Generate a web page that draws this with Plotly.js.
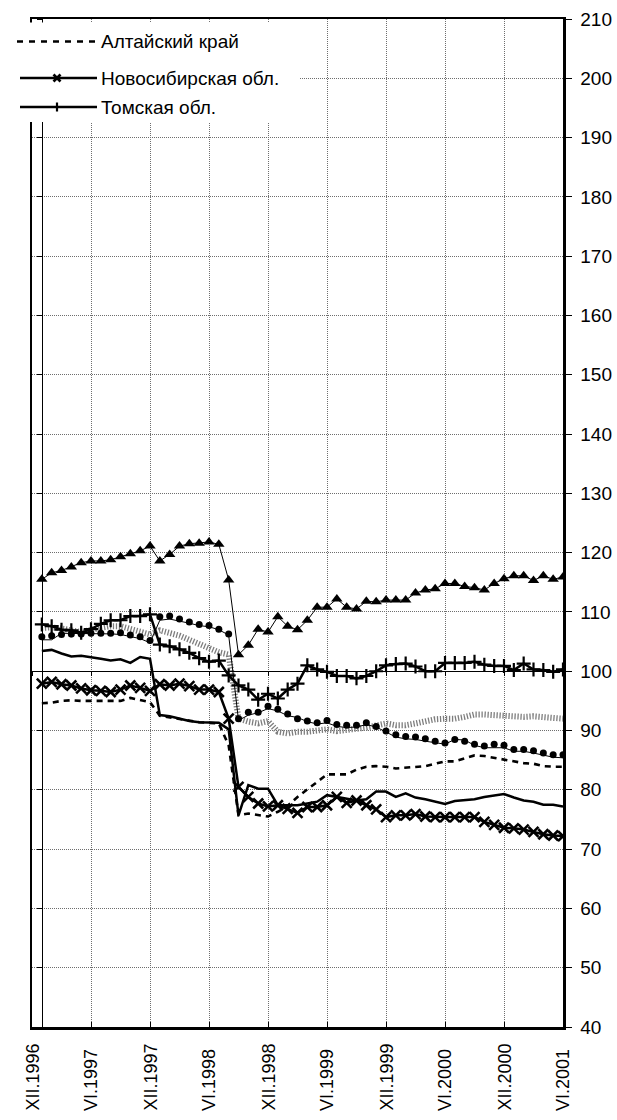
<!DOCTYPE html>
<html>
<head>
<meta charset="utf-8">
<script src="https://cdn.plot.ly/plotly-3.0.1.min.js"></script>
<style>html,body{margin:0;padding:0;background:#fff;}#chart{width:617px;height:1120px;}</style>
</head>
<body>
<div id="chart"></div>
<script>
// ---- categories (months) ----
const ROMAN = ['I','II','III','IV','V','VI','VII','VIII','IX','X','XI','XII'];
const months = ['XII.1996'];
for (let yr = 1997; yr <= 2001; yr++) {
  for (let m = 0; m < 12; m++) {
    if (yr === 2001 && m > 5) break;
    months.push(ROMAN[m] + '.' + yr);
  }
}
const dataMonths = months.slice(1); // I.1997 .. VI.2001
const xTicks = ['XII.1996','VI.1997','XII.1997','VI.1998','XII.1998','VI.1999','XII.1999','VI.2000','XII.2000','VI.2001'];

// ---- series values ----
const altai = [94.6,94.7,95.0,95.1,95.0,95.0,95.0,95.0,95.0,95.5,95.2,94.8,
  92.5,92.2,92.0,91.6,91.4,91.3,91.2,87.5,75.7,76.0,75.7,75.5,
  76.3,77.3,78.8,80.1,81.4,82.6,82.6,82.6,83.4,83.9,84.0,83.9,
  83.6,83.7,83.8,84.0,84.4,84.8,84.8,85.3,85.8,85.7,85.4,85.0,
  84.8,84.5,84.4,84.0,83.9,83.9];
const novosib = [97.9,98.2,97.8,97.6,97.1,96.8,96.7,96.5,96.9,97.6,97.2,96.7,
  97.8,97.6,97.9,97.5,96.9,96.9,96.5,92.0,80.5,78.8,77.7,77.2,
  77.4,76.8,76.1,77.1,77.1,77.4,78.8,77.8,78.2,77.4,76.7,75.4,
  75.7,75.7,75.9,75.5,75.4,75.4,75.4,75.4,75.4,74.6,74.1,73.6,
  73.5,73.3,72.9,72.5,72.3,72.2];
const tomsk = [107.9,107.6,107.0,106.9,106.5,107.1,108.0,108.6,108.6,109.3,109.3,109.6,
  104.5,104.2,103.7,103.1,102.2,101.6,101.8,99.3,97.6,96.9,95.2,96.2,
  95.4,96.9,97.9,101.0,100.3,99.9,99.2,99.2,98.8,99.2,100.0,101.0,
  101.2,101.3,100.8,100.0,100.0,101.4,101.4,101.4,101.6,101.1,100.9,100.9,
  100.2,101.3,100.3,100.2,99.9,100.3];
const triangles = [115.5,116.6,117.0,117.6,118.3,118.6,118.6,118.8,119.3,119.8,120.3,121.1,
  118.6,119.7,121.1,121.5,121.6,121.8,121.4,115.4,102.8,104.4,107.1,106.6,
  109.2,107.6,107.0,108.6,110.8,110.8,112.2,110.8,110.5,111.8,111.7,112.0,
  112.0,112.0,113.2,113.7,113.9,114.8,114.8,114.3,114.1,113.7,114.8,115.6,
  116.1,116.1,115.3,116.1,115.5,115.9];
const circles = [105.8,106.0,106.2,106.3,106.3,106.4,106.4,106.4,106.5,106.1,105.8,105.2,
  109.2,109.3,108.8,108.3,107.9,107.7,107.1,106.3,92.0,93.1,93.1,94.1,
  93.6,92.8,92.0,91.6,91.3,91.7,91.0,90.9,90.9,91.3,90.7,89.9,
  89.3,89.0,88.9,88.6,88.2,87.9,88.5,88.2,87.7,87.4,87.7,87.5,
  86.8,86.8,86.6,86.2,85.9,85.9];
const thinLine = [105.3,105.3,106.4,106.4,106.3,106.3,106.3,106.3,106.2,105.9,105.5,104.8,
  108.6,108.8,108.5,108.1,107.7,107.5,107.0,106.1,91.7,92.6,93.0,93.7,
  93.3,92.5,92.2,91.5,91.1,91.3,90.7,90.5,90.6,91.0,90.6,89.8,
  88.9,88.6,88.5,88.2,88.0,87.7,88.5,88.4,87.5,87.1,87.1,87.1,
  86.5,86.5,86.2,85.9,85.5,85.4];
const grayHatched = [107.3,107.4,107.2,107.0,106.6,107.0,107.4,107.6,107.6,107.2,106.8,106.2,
  106.9,106.5,106.0,105.3,104.6,103.9,103.2,102.8,92.0,91.5,91.2,91.6,
  89.8,89.5,89.8,89.8,89.9,90.2,89.9,90.2,90.3,90.5,90.9,91.2,
  90.9,90.9,91.2,91.6,91.9,92.0,92.0,92.3,92.7,92.7,92.6,92.4,
  92.3,92.3,92.4,92.2,92.0,92.0];
const thickSolid = [103.4,103.6,103.0,102.5,102.6,102.4,102.1,101.8,102.0,101.4,102.4,102.1,
  92.6,92.4,92.0,91.6,91.4,91.3,91.3,90.2,75.7,80.8,80.2,80.2,
  77.4,77.4,77.4,77.7,78.0,79.1,78.8,78.4,78.2,78.4,79.7,79.7,
  78.8,79.4,78.7,78.4,78.0,77.6,78.1,78.2,78.4,78.8,79.1,79.3,
  78.7,78.2,78.0,77.5,77.5,77.2];

const legendNames = ['Алтайский край','Новосибирская обл.','Томская обл.'];

// ---- traces ----
const FONT = 'Liberation Sans, Arial, sans-serif';
const traces = [
  {x: dataMonths, y: grayHatched, mode: 'lines', line: {color: '#7d7d7d', width: 6, dash: '1.3px,1.7px'}, hoverinfo: 'skip'},
  {x: dataMonths, y: thinLine, mode: 'lines', line: {color: '#000', width: 1}},
  {x: dataMonths, y: circles, mode: 'markers', marker: {symbol: 'circle', size: 7, color: '#000'}},
  {x: dataMonths, y: thickSolid, mode: 'lines', line: {color: '#000', width: 2.5}},
  {x: dataMonths, y: triangles, mode: 'lines+markers', line: {color: '#000', width: 1},
   marker: {symbol: 'triangle-up', size: 10, color: '#000'}},
  {x: dataMonths, y: altai, name: legendNames[0], mode: 'lines', line: {color: '#000', width: 2.6, dash: '6px,5px'}},
  {x: dataMonths, y: novosib, name: legendNames[1], mode: 'lines+markers', line: {color: '#000', width: 2.5},
   marker: {symbol: 'x-thin', size: 10, line: {color: '#000', width: 2.6}}},
  {x: dataMonths, y: tomsk, name: legendNames[2], mode: 'lines+markers', line: {color: '#000', width: 2.5},
   marker: {symbol: 'cross-thin', size: 10, line: {color: '#000', width: 2.2}}},
  {x: [], y: [], xaxis: 'x2', yaxis: 'y', hoverinfo: 'skip'},
  {x: [], y: [], xaxis: 'x', yaxis: 'y2', hoverinfo: 'skip'}
];

// ---- layout helpers (pixel -> paper) ----
const PL = 32, PR = 563, PT = 19, PB = 1027;
const fx = p => (p - PL) / (PR - PL);
const fy = p => (PB - p) / (PB - PT);
const YMIN = 40, YMAX = 210;

const shapes = [
  {type: 'rect', xref: 'paper', yref: 'paper', x0: fx(0), x1: fx(300), y0: fy(122), y1: fy(22.5),
   fillcolor: '#fff', line: {width: 0}, layer: 'above'},
  {type: 'line', xref: 'paper', yref: 'paper', x0: fx(17), x1: fx(97), y0: fy(41.5), y1: fy(41.5),
   line: {color: '#000', width: 2.7, dash: '6px,6px'}, layer: 'above'},
  {type: 'line', xref: 'paper', yref: 'paper', x0: fx(20), x1: fx(97), y0: fy(78), y1: fy(78),
   line: {color: '#000', width: 2.4}, layer: 'above'},
  {type: 'line', xref: 'paper', yref: 'paper', x0: fx(53.5), x1: fx(60.5), y0: fy(74.5), y1: fy(81.5),
   line: {color: '#000', width: 2.6}, layer: 'above'},
  {type: 'line', xref: 'paper', yref: 'paper', x0: fx(53.5), x1: fx(60.5), y0: fy(81.5), y1: fy(74.5),
   line: {color: '#000', width: 2.6}, layer: 'above'},
  {type: 'line', xref: 'paper', yref: 'paper', x0: fx(20), x1: fx(97), y0: fy(107), y1: fy(107),
   line: {color: '#000', width: 2.4}, layer: 'above'},
  {type: 'line', xref: 'paper', yref: 'paper', x0: fx(57), x1: fx(57), y0: fy(102.5), y1: fy(111.5),
   line: {color: '#000', width: 2.2}, layer: 'above'}
];

const legendFont = {family: FONT, size: 19, color: '#000'};
const annotations = [
  {text: legendNames[0], xref: 'paper', yref: 'paper', x: fx(99), y: fy(41.5), xanchor: 'left', yanchor: 'middle', showarrow: false, font: legendFont},
  {text: legendNames[1], xref: 'paper', yref: 'paper', x: fx(99), y: fy(78), xanchor: 'left', yanchor: 'middle', showarrow: false, font: legendFont},
  {text: legendNames[2], xref: 'paper', yref: 'paper', x: fx(99), y: fy(107), xanchor: 'left', yanchor: 'middle', showarrow: false, font: legendFont}
];
// x tick labels: rotated, aligned at their start (bottom), like the original
xTicks.forEach(lbl => {
  annotations.push({text: lbl, xref: 'x', yref: 'paper', x: months.indexOf(lbl), y: fy(1113),
    textangle: -90, xanchor: 'center', yanchor: 'bottom', showarrow: false,
    font: {family: FONT, size: 18, color: '#000'}});
});

const gridCommon = {showgrid: true, gridcolor: '#6e6e6e', gridwidth: 1, griddash: '1px,1px'};

const layout = {
  width: 617, height: 1120,
  margin: {l: PL, r: 617 - PR, t: PT, b: 1120 - PB, pad: 0},
  paper_bgcolor: '#fff', plot_bgcolor: '#fff',
  showlegend: false,
  font: {family: FONT, color: '#000'},
  xaxis: Object.assign({
    type: 'category', categoryarray: months, categoryorder: 'array', range: [0, months.length - 1],
    tickmode: 'array', tickvals: xTicks, showticklabels: false,
    ticks: 'inside', ticklen: 5, tickcolor: '#000', tickwidth: 1,
    showline: true, linecolor: '#000', linewidth: 2.5, mirror: true,
    zeroline: false, fixedrange: true
  }, gridCommon),
  xaxis2: {
    type: 'category', categoryarray: months, categoryorder: 'array', range: [0, months.length - 1],
    overlaying: 'x', anchor: 'free', position: (100 - YMIN) / (YMAX - YMIN), side: 'bottom',
    tickmode: 'array', tickvals: xTicks, ticks: 'outside', ticklen: 4, tickcolor: '#000',
    showticklabels: false, showgrid: false, showline: true, linecolor: '#000', linewidth: 1, zeroline: false
  },
  yaxis: Object.assign({
    range: [YMIN, YMAX], tick0: YMIN, dtick: 10, side: 'right',
    ticks: 'outside', ticklen: 6, tickcolor: '#000', tickwidth: 1, ticklabelstandoff: 5,
    showline: true, linecolor: '#000', linewidth: 2.5, mirror: true,
    tickfont: {family: FONT, size: 19, color: '#000'}, zeroline: false, fixedrange: true
  }, gridCommon),
  yaxis2: {
    range: [YMIN, YMAX], tick0: YMIN, dtick: 10, overlaying: 'y', anchor: 'free', position: 1 / (months.length - 1),
    side: 'left', ticks: 'outside', ticklen: 5, tickcolor: '#000',
    showticklabels: false, showgrid: false, showline: true, linecolor: '#000', linewidth: 1, zeroline: false
  },
  shapes: shapes,
  annotations: annotations
};

Plotly.newPlot('chart', traces, layout, {staticPlot: true, displayModeBar: false});
</script>
</body>
</html>
